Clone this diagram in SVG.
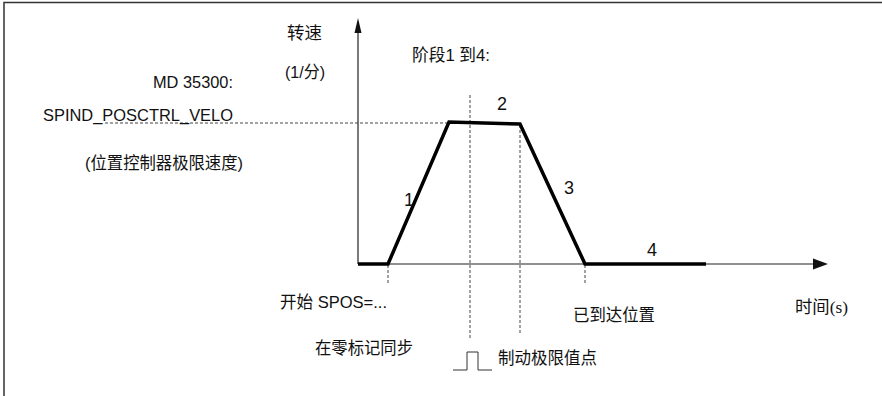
<svg xmlns="http://www.w3.org/2000/svg" width="882" height="396" viewBox="0 0 882 396">
<style>
.t{font-family:"Liberation Sans","Noto Sans CJK SC",sans-serif;font-size:17px;fill:#111}
.n{font-family:"Liberation Sans",sans-serif;font-size:18px;fill:#111}
.d{stroke:#444;stroke-width:1;stroke-dasharray:3 2;fill:none}
.ax{stroke:#222;stroke-width:1.2;fill:none}
</style>
<rect width="882" height="396" fill="#fff"/>
<g id="frame"><path d="M4,396 V2.5 H882" fill="none" stroke="#333" stroke-width="1.5"/></g>
<g id="axes">
<line class="ax" x1="358" y1="264" x2="815" y2="264"/>
<polygon points="813,258.5 828,264 813,269.5" fill="#111"/>
<line class="ax" x1="358" y1="264" x2="358" y2="30"/>
<polygon points="354.5,33 358,18 361.5,33" fill="#111"/>
</g>
<g id="connectors">
<line class="d" x1="105" y1="123" x2="449" y2="123"/>
<line class="d" x1="388" y1="265" x2="388" y2="284"/>
<line class="d" x1="470" y1="95" x2="470" y2="338"/>
<line class="d" x1="520" y1="125" x2="520" y2="335"/>
<line class="d" x1="585" y1="265" x2="585" y2="284"/>
<path d="M453,370 H467 V352 H478 V370 H492" fill="none" stroke="#333" stroke-width="1"/>
</g>
<g id="profile"><polyline points="358,264 388,264 449,122 520,124 585,264 706,264" fill="none" stroke="#000" stroke-width="3.5" stroke-linejoin="miter"/></g>
<g id="labels">
<text class="t" x="287" y="39" textLength="35" lengthAdjust="spacingAndGlyphs">转速</text>
<text class="t" x="285" y="78" textLength="40" lengthAdjust="spacingAndGlyphs">(1/分)</text>
<text class="t" x="153" y="88" textLength="80" lengthAdjust="spacingAndGlyphs">MD 35300:</text>
<text class="t" x="43" y="121" textLength="190" lengthAdjust="spacingAndGlyphs">SPIND_POSCTRL_VELO</text>
<text class="t" x="85" y="169" textLength="158" lengthAdjust="spacingAndGlyphs">(位置控制器极限速度)</text>
<text class="t" x="412" y="61" textLength="78" lengthAdjust="spacingAndGlyphs">阶段1 到4:</text>
<text class="n" x="404" y="206">1</text>
<text class="n" x="497" y="110">2</text>
<text class="n" x="564" y="194">3</text>
<text class="n" x="647" y="256">4</text>
<text class="t" x="280" y="308" textLength="107" lengthAdjust="spacingAndGlyphs">开始 SPOS=...</text>
<text class="t" x="315" y="354" textLength="98" lengthAdjust="spacingAndGlyphs">在零标记同步</text>
<text class="t" x="498" y="364" textLength="99" lengthAdjust="spacingAndGlyphs">制动极限值点</text>
<text class="t" x="573" y="321" textLength="82" lengthAdjust="spacingAndGlyphs">已到达位置</text>
<text class="t" x="795" y="313" textLength="53" lengthAdjust="spacingAndGlyphs">时间<tspan font-family="'Liberation Serif',serif">(s)</tspan></text>
</g>
</svg>
